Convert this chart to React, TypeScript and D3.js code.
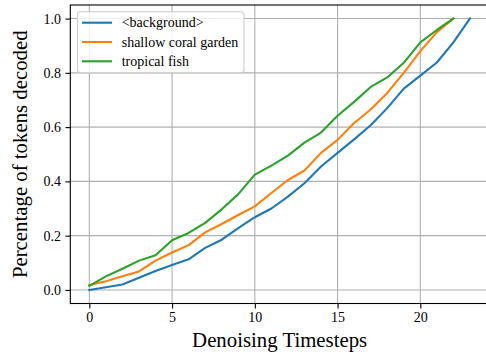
import { useRef, useEffect } from 'react';
import * as d3 from 'd3';

const background = [0, 0.01, 0.02, 0.045, 0.07, 0.092, 0.113, 0.155, 0.185, 0.228, 0.268, 0.3, 0.344, 0.393, 0.455, 0.505, 0.555, 0.607, 0.67, 0.742, 0.79, 0.838, 0.912, 1.0];
const coral = [0.018, 0.032, 0.05, 0.068, 0.108, 0.138, 0.165, 0.212, 0.243, 0.276, 0.308, 0.357, 0.405, 0.44, 0.505, 0.553, 0.615, 0.665, 0.726, 0.8, 0.88, 0.95, 1.0];
const fish = [0.015, 0.05, 0.078, 0.108, 0.128, 0.183, 0.21, 0.247, 0.297, 0.353, 0.425, 0.458, 0.495, 0.543, 0.58, 0.642, 0.693, 0.748, 0.783, 0.837, 0.912, 0.958, 1.0];

const seriesNames = ['<background>', 'shallow coral garden', 'tropical fish'];
const seriesColors = ['#1f77b4', '#ff7f0e', '#2ca02c'];
const xTicks = [0, 5, 10, 15, 20];
const yTicks = [0, 0.2, 0.4, 0.6, 0.8, 1.0];

const width = 486;
const height = 358;
const font = '"Liberation Serif", "Times New Roman", Times, serif';

export default function App() {
  const svgRef = useRef<SVGSVGElement>(null);

  useEffect(() => {
    const svg = d3.select(svgRef.current);
    svg.selectAll('*').remove();

    const left = 70.3, right = 489, top = 5, bottom = 303.5;

    const x = d3.scaleLinear().domain([-1.15, 24.15]).range([left, right]);
    const y = d3.scaleLinear().domain([-0.05, 1.05]).range([bottom, top]);

    // grid
    const grid = svg.append('g').attr('stroke', '#b0b0b0').attr('stroke-width', 1.1);
    grid.selectAll('line.gx').data(xTicks).join('line')
      .attr('x1', d => x(d)).attr('x2', d => x(d))
      .attr('y1', top).attr('y2', bottom);
    grid.selectAll('line.gy').data(yTicks).join('line')
      .attr('y1', d => y(d)).attr('y2', d => y(d))
      .attr('x1', left).attr('x2', right);

    // lines
    const all = [background, coral, fish];
    const line = d3.line<number>().x((_, i) => x(i)).y(d => y(d));
    svg.append('g').selectAll('path').data(all).join('path')
      .attr('d', d => line(d))
      .attr('fill', 'none')
      .attr('stroke', (_, i) => seriesColors[i])
      .attr('stroke-width', 2.1)
      .attr('stroke-linejoin', 'round')
      .attr('stroke-linecap', 'square');

    // axes
    const xAxis = svg.append('g')
      .attr('transform', `translate(0,${bottom})`)
      .call(d3.axisBottom(x).tickValues(xTicks).tickFormat(d3.format('d')).tickSize(4.9).tickPadding(3.5));
    const yAxis = svg.append('g')
      .attr('transform', `translate(${left},0)`)
      .call(d3.axisLeft(y).tickValues(yTicks).tickFormat(d3.format('.1f')).tickSize(4.9).tickPadding(4.5));

    [xAxis, yAxis].forEach(a => {
      a.attr('font-family', null).attr('font-size', null);
      a.select('.domain').remove();
      a.selectAll('line').attr('stroke', '#000').attr('stroke-width', 1.1);
      a.selectAll('text').attr('fill', '#000')
        .style('font-family', font).style('font-size', '14px');
    });

    // spines
    svg.append('rect')
      .attr('x', left).attr('y', top)
      .attr('width', right - left).attr('height', bottom - top)
      .attr('fill', 'none').attr('stroke', '#000').attr('stroke-width', 1.1);

    // axis labels
    svg.append('text')
      .attr('x', (left + right) / 2).attr('y', 346.5)
      .attr('text-anchor', 'middle')
      .style('font-family', font).style('font-size', '20.8px')
      .text('Denoising Timesteps');
    svg.append('text')
      .attr('transform', `translate(27,${(top + bottom) / 2}) rotate(-90)`)
      .attr('text-anchor', 'middle')
      .style('font-family', font).style('font-size', '20.8px')
      .text('Percentage of tokens decoded');

    // legend
    const lg = svg.append('g');
    lg.append('rect')
      .attr('x', 77.5).attr('y', 11.7)
      .attr('width', 166.5).attr('height', 61)
      .attr('rx', 3)
      .attr('fill', 'rgba(255,255,255,0.8)')
      .attr('stroke', '#cccccc').attr('stroke-width', 1.1);
    const rows = lg.selectAll('g.row').data(seriesNames).join('g')
      .attr('transform', (_, i) => `translate(0,${22.7 + i * 19.3})`);
    rows.append('line')
      .attr('x1', 82).attr('x2', 112).attr('y1', 0).attr('y2', 0)
      .attr('stroke', (_, i) => seriesColors[i]).attr('stroke-width', 2.1);
    rows.append('text')
      .attr('x', 121.7).attr('y', 0).attr('dy', '0.33em')
      .style('font-family', font).style('font-size', '14px')
      .text(d => d);
  }, []);

  return (
    <svg
      ref={svgRef}
      width={width}
      height={height}
      style={{ position: 'absolute', left: 0, top: 0, background: '#fff', fontFamily: font }}
    />
  );
}
